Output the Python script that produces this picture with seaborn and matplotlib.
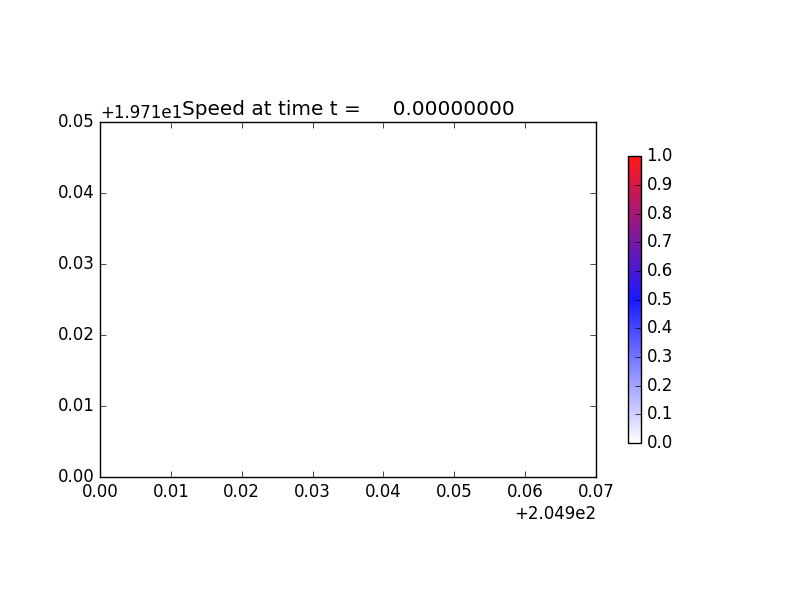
import matplotlib
matplotlib.use("Agg")
import matplotlib.pyplot as plt
import seaborn as sns
import numpy as np
import pandas as pd
from matplotlib.colors import LinearSegmentedColormap, Normalize
from matplotlib.cm import ScalarMappable

# Data (the snapshot at t=0 shows no particles)
x_vals = []
y_vals = []
speed_vals = []
x_range = (204.9, 204.97)
y_range = (19.71, 19.76)
cbar_ticks = [0.0, 0.1, 0.2, 0.3, 0.4, 0.5, 0.6, 0.7, 0.8, 0.9, 1.0]
time_t = 0.0

plt.style.use("classic")
fig = plt.figure(figsize=(8, 6), dpi=100)
ax = fig.add_axes([0.125, 0.205, 0.62, 0.5917])

df = pd.DataFrame({"x": pd.Series(x_vals, dtype=float),
                   "y": pd.Series(y_vals, dtype=float),
                   "speed": pd.Series(speed_vals, dtype=float)})
cmap = LinearSegmentedColormap.from_list("wbr", ["white", "blue", "red"])
sns.scatterplot(data=df, x="x", y="y", ax=ax, legend=False)
ax.set_xlim(*x_range)
ax.set_ylim(*y_range)
ax.xaxis.get_major_formatter().set_useOffset(x_range[0])
ax.yaxis.get_major_formatter().set_useOffset(y_range[0])
ax.set_xticks(x_range[0] + np.arange(8) * 0.01)
ax.set_yticks(y_range[0] + np.arange(6) * 0.01)
ax.set_xlim(*x_range)
ax.set_ylim(*y_range)
ax.set_xlabel("")
ax.set_ylabel("")
ax.set_title("Speed at time t = %14.8f" % time_t)

cax = fig.add_axes([0.785, 0.2617, 0.01625, 0.478])
sm = ScalarMappable(norm=Normalize(0, 1), cmap=cmap)
cb = fig.colorbar(sm, cax=cax, ticks=cbar_ticks, alpha=0.9)

fig.savefig("out.png", dpi=100)
